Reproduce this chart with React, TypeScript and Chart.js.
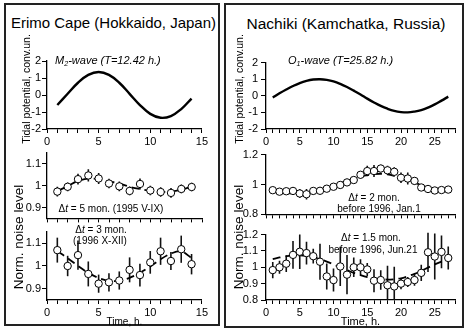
import React, { useEffect, useRef } from "react";
import { Chart, registerables } from "chart.js";

Chart.register(...registerables);

const FONT = "'Liberation Sans', Arial, Helvetica, sans-serif";

// ---------------- data ----------------
const erimoHours = [1, 2, 3, 4, 5, 6, 7, 8, 9, 10, 11, 12, 13, 14];
const erimoTidalM2 = [-0.59, 0.07, 0.72, 1.18, 1.35, 1.18, 0.72, 0.07, -0.59, -1.11, -1.34, -1.24, -0.83, -0.21];

const nachikiHours = [1, 2, 3, 4, 5, 6, 7, 8, 9, 10, 11, 12, 13, 14, 15, 16, 17, 18, 19, 20, 21, 22, 23, 24, 25, 26, 27];
const nachikiTidalO1 = [-0.1, 0.15, 0.38, 0.59, 0.77, 0.9, 0.98, 1.0, 0.96, 0.87, 0.72, 0.53, 0.31, 0.08, -0.17, -0.4, -0.61, -0.78, -0.91, -0.98, -1.0, -0.95, -0.86, -0.71, -0.52, -0.29, -0.05];

const erimo1995Noise = [0.973, 0.995, 1.03, 1.047, 1.033, 1.01, 0.997, 0.976, 1.008, 0.978, 0.971, 0.967, 0.985, 0.994];
const erimo1995Err = [0.022, 0.02, 0.025, 0.028, 0.025, 0.022, 0.022, 0.02, 0.025, 0.022, 0.022, 0.022, 0.02, 0.02];
const erimo1995Fit = [0.975, 0.998, 1.022, 1.032, 1.03, 1.02, 1.01, 0.995, 0.985, 0.977, 0.972, 0.973, 0.982, 0.995];

const erimo1996Noise = [1.07, 1.0, 1.048, 0.965, 0.922, 0.928, 0.936, 0.983, 0.96, 1.016, 1.065, 1.022, 1.074, 1.008];
const erimo1996Err = [0.055, 0.045, 0.065, 0.055, 0.04, 0.04, 0.04, 0.055, 0.05, 0.05, 0.06, 0.04, 0.06, 0.045];
const erimo1996Fit = [1.065, 1.035, 1.0, 0.97, 0.947, 0.935, 0.935, 0.948, 0.97, 0.998, 1.03, 1.055, 1.065, 1.035];

const nachikiJanNoise = [0.962, 0.952, 0.955, 0.957, 0.94, 0.935, 0.957, 0.958, 0.972, 0.985, 0.997, 1.014, 1.03, 1.065, 1.09, 1.09, 1.107, 1.095, 1.085, 1.045, 1.04, 1.024, 0.98, 0.97, 0.96, 0.963, 0.966];
const nachikiJanErr = [0.015, 0.015, 0.015, 0.015, 0.03, 0.035, 0.015, 0.015, 0.02, 0.02, 0.015, 0.015, 0.02, 0.025, 0.035, 0.04, 0.025, 0.03, 0.03, 0.035, 0.04, 0.025, 0.02, 0.015, 0.015, 0.02, 0.02];
const nachikiJanFit = [0.95, 0.945, 0.942, 0.94, 0.94, 0.945, 0.955, 0.965, 0.978, 0.993, 1.008, 1.023, 1.038, 1.052, 1.063, 1.07, 1.072, 1.068, 1.058, 1.045, 1.03, 1.013, 0.995, 0.978, 0.963, 0.952, 0.947];

const nachikiJunNoise = [0.983, 1.0, 1.022, 1.076, 1.095, 1.087, 1.068, 1.034, 0.944, 0.922, 1.005, 0.955, 1.0, 1.0, 0.987, 0.918, 0.922, 0.89, 0.883, 0.9, 0.91, 0.922, 0.966, 1.092, 1.066, 1.094, 1.057];
const nachikiJunErr = [0.05, 0.04, 0.05, 0.085, 0.105, 0.07, 0.045, 0.11, 0.08, 0.07, 0.12, 0.12, 0.06, 0.05, 0.04, 0.07, 0.06, 0.12, 0.12, 0.035, 0.03, 0.035, 0.05, 0.12, 0.14, 0.1, 0.07];
const nachikiJunFit = [1.05, 1.06, 1.068, 1.072, 1.073, 1.07, 1.062, 1.05, 1.035, 1.018, 1.0, 0.983, 0.966, 0.952, 0.94, 0.932, 0.927, 0.925, 0.927, 0.933, 0.945, 0.96, 0.978, 0.998, 1.018, 1.035, 1.048];

const tidalTicks = [-2, -1, 0, 1, 2];
const tidalTickLabels = ["-2", "-1", "0", "1", "2"];
const erimoNoiseTicks = [0.9, 1, 1.1];
const erimoNoiseTickLabels = ["0.9", "1", "1.1"];
const nachikiNoiseTicks = [0.8, 0.9, 1, 1.1, 1.2];
const nachikiNoiseTickLabels = ["0.8", "0.9", "1", "1.1", "1.2"];
const erimoTimeLabels = [0, 5, 10, 15];
const nachikiTimeLabels = [0, 5, 10, 15, 20, 25];

// ---------------- helpers ----------------
const pts = (xs: number[], ys: number[]) => xs.map((x, i) => ({ x, y: ys[i] }));

const curve = (xs: number[], ys: number[]) => ({
  data: pts(xs, ys),
  borderColor: "#000",
  borderWidth: 2.4,
  pointRadius: 0,
  tension: 0.4,
  fill: false,
  order: 1,
});

const fitLine = (xs: number[], ys: number[]) => ({
  data: pts(xs, ys),
  borderColor: "#000",
  borderWidth: 1.8,
  borderDash: [8, 5],
  pointRadius: 0,
  tension: 0.3,
  fill: false,
  order: 2,
});

const obs = (xs: number[], ys: number[], errs: number[]) => ({
  data: pts(xs, ys),
  errors: errs,
  showLine: false,
  pointRadius: 3.7,
  pointBackgroundColor: "#fff",
  pointBorderColor: "#000",
  pointBorderWidth: 1,
  order: 0,
});

const errorBarPlugin = {
  id: "errorBars",
  beforeDatasetsDraw(chart: any) {
    const { ctx, chartArea } = chart;
    const xs = chart.scales.x;
    const ys = chart.scales.y;
    chart.data.datasets.forEach((ds: any) => {
      if (!ds.errors) return;
      ctx.save();
      ctx.beginPath();
      ctx.rect(chartArea.left, chartArea.top - 4, chartArea.right - chartArea.left, chartArea.bottom - chartArea.top + 4);
      ctx.clip();
      ctx.strokeStyle = "#111";
      ctx.lineWidth = 1.6;
      ds.data.forEach((p: any, j: number) => {
        const x = xs.getPixelForValue(p.x);
        const ya = ys.getPixelForValue(p.y - ds.errors[j]);
        const yb = ys.getPixelForValue(p.y + ds.errors[j]);
        ctx.beginPath();
        ctx.moveTo(x, ya);
        ctx.lineTo(x, yb);
        ctx.stroke();
      });
      ctx.restore();
    });
  },
};

type PlotSpec = {
  area: { x0: number; x1: number; y0: number; y1: number };
  xMax: number;
  xLabelVals: number[];
  showXLabels: boolean;
  xTitle?: string;
  xTitleSize?: number;
  xAxisH: number;
  fontSize: number;
  yPad: number;
  yMin: number;
  yMax: number;
  yTicks: number[];
  yLabels: string[];
  datasets: any[];
};

const Y_W = 30;
const PAD_T = 8;
const PAD_R = 8;

function Plot({ spec }: { spec: PlotSpec }) {
  const ref = useRef<HTMLCanvasElement>(null);
  const { x0, x1, y0, y1 } = spec.area;
  const left = x0 - Y_W;
  const top = y0 - PAD_T;
  const width = Y_W + (x1 - x0) + PAD_R;
  const height = PAD_T + (y1 - y0) + spec.xAxisH;

  useEffect(() => {
    const xMinor: number[] = [];
    for (let v = 0; v <= spec.xMax; v++) xMinor.push(v);
    const tickFont = { family: FONT, size: spec.fontSize };
    const chart = new Chart(ref.current as HTMLCanvasElement, {
      type: "line",
      data: { datasets: spec.datasets },
      plugins: [errorBarPlugin],
      options: {
        responsive: false,
        maintainAspectRatio: false,
        animation: false,
        devicePixelRatio: 1,
        layout: { padding: { top: PAD_T, right: PAD_R, left: 0, bottom: 0 } },
        plugins: { legend: { display: false }, tooltip: { enabled: false } },
        scales: {
          x: {
            type: "linear",
            min: 0,
            max: spec.xMax,
            bounds: "data",
            afterBuildTicks: (s: any) => {
              s.ticks = xMinor.map((v) => ({ value: v }));
            },
            afterFit: (s: any) => {
              s.height = spec.xAxisH;
            },
            ticks: {
              display: spec.showXLabels,
              autoSkip: false,
              maxRotation: 0,
              padding: 2,
              color: "#000",
              font: tickFont,
              callback: (v: any) => (spec.xLabelVals.indexOf(v) >= 0 ? String(v) : ""),
            },
            grid: { drawOnChartArea: false, drawTicks: true, tickLength: 4, color: "#000", lineWidth: 1 },
            border: { display: true, color: "#000", width: 1.3 },
            title: spec.xTitle
              ? {
                  display: true,
                  text: spec.xTitle,
                  color: "#000",
                  font: { family: FONT, size: spec.xTitleSize || 10 },
                  padding: { top: 0, bottom: 0 },
                }
              : { display: false },
          },
          y: {
            type: "linear",
            min: spec.yMin,
            max: spec.yMax,
            bounds: "data",
            afterBuildTicks: (s: any) => {
              s.ticks = spec.yTicks.map((v) => ({ value: v }));
            },
            afterFit: (s: any) => {
              s.width = Y_W;
            },
            ticks: {
              padding: spec.yPad,
              color: "#000",
              font: tickFont,
              callback: (v: any) => {
                const i = spec.yTicks.indexOf(v);
                return i >= 0 ? spec.yLabels[i] : "";
              },
            },
            grid: { drawOnChartArea: false, drawTicks: true, tickLength: 5, color: "#000", lineWidth: 1 },
            border: { display: true, color: "#000", width: 1.3 },
          },
        },
      } as any,
    });
    return () => chart.destroy();
  }, []);

  return (
    <canvas
      ref={ref}
      width={width}
      height={height}
      style={{ position: "absolute", left, top, width, height }}
    />
  );
}

function Txt(props: {
  x: number;
  y: number;
  size: number;
  rotate?: boolean;
  italic?: boolean;
  anchorLeft?: boolean;
  children: React.ReactNode;
}) {
  const { x, y, size, rotate, italic, anchorLeft, children } = props;
  return (
    <div
      style={{
        position: "absolute",
        left: x,
        top: y,
        transform: (anchorLeft ? "translate(0,-50%)" : "translate(-50%,-50%)") + (rotate ? " rotate(-90deg)" : ""),
        fontSize: size,
        fontFamily: FONT,
        fontStyle: italic ? "italic" : "normal",
        lineHeight: 1,
        whiteSpace: "nowrap",
        color: "#000",
      }}
    >
      {children}
    </div>
  );
}

const Sub = ({ children }: { children: React.ReactNode }) => (
  <span style={{ fontSize: "0.65em", position: "relative", top: "0.35em" }}>{children}</span>
);

const Box = ({ l, t, r, b }: { l: number; t: number; r: number; b: number }) => (
  <div
    style={{
      position: "absolute",
      left: l,
      top: t,
      width: r - l,
      height: b - t,
      border: "2px solid #222",
      boxSizing: "border-box",
    }}
  />
);

export default function App() {
  const L = { x0: 47, x1: 202 };
  const R = { x0: 266, x1: 455 };

  const specs: PlotSpec[] = [
    {
      area: { ...L, y0: 61, y1: 129 },
      xMax: 15, xLabelVals: erimoTimeLabels, showXLabels: true, xAxisH: 22, fontSize: 11, yPad: 1,
      yMin: -2, yMax: 2, yTicks: tidalTicks, yLabels: tidalTickLabels,
      datasets: [curve(erimoHours, erimoTidalM2)],
    },
    {
      area: { ...L, y0: 153, y1: 220 },
      xMax: 15, xLabelVals: erimoTimeLabels, showXLabels: false, xAxisH: 6, fontSize: 11, yPad: 1,
      yMin: 0.85, yMax: 1.15, yTicks: erimoNoiseTicks, yLabels: erimoNoiseTickLabels,
      datasets: [obs(erimoHours, erimo1995Noise, erimo1995Err), fitLine(erimoHours, erimo1995Fit)],
    },
    {
      area: { ...L, y0: 232, y1: 300 },
      xMax: 15, xLabelVals: erimoTimeLabels, showXLabels: true, xTitle: "Time, h.", xTitleSize: 10, xAxisH: 28, fontSize: 11, yPad: 1,
      yMin: 0.85, yMax: 1.15, yTicks: erimoNoiseTicks, yLabels: erimoNoiseTickLabels,
      datasets: [obs(erimoHours, erimo1996Noise, erimo1996Err), fitLine(erimoHours, erimo1996Fit)],
    },
    {
      area: { ...R, y0: 61, y1: 129 },
      xMax: 28, xLabelVals: nachikiTimeLabels, showXLabels: true, xAxisH: 22, fontSize: 11, yPad: 3,
      yMin: -2, yMax: 2, yTicks: tidalTicks, yLabels: tidalTickLabels,
      datasets: [curve(nachikiHours, nachikiTidalO1)],
    },
    {
      area: { ...R, y0: 153, y1: 218 },
      xMax: 28, xLabelVals: nachikiTimeLabels, showXLabels: false, xAxisH: 6, fontSize: 11, yPad: 3,
      yMin: 0.8, yMax: 1.2, yTicks: nachikiNoiseTicks, yLabels: nachikiNoiseTickLabels,
      datasets: [obs(nachikiHours, nachikiJanNoise, nachikiJanErr), fitLine(nachikiHours, nachikiJanFit)],
    },
    {
      area: { ...R, y0: 233, y1: 300 },
      xMax: 28, xLabelVals: nachikiTimeLabels, showXLabels: true, xTitle: "Time, h.", xTitleSize: 11, xAxisH: 29, fontSize: 11, yPad: 3,
      yMin: 0.8, yMax: 1.2, yTicks: nachikiNoiseTicks, yLabels: nachikiNoiseTickLabels,
      datasets: [obs(nachikiHours, nachikiJunNoise, nachikiJunErr), fitLine(nachikiHours, nachikiJunFit)],
    },
  ];

  return (
    <div style={{ position: "absolute", left: 0, top: 0, width: 466, height: 333, background: "#fff", overflow: "hidden" }}>
      <Box l={4} t={3} r={220} b={326} />
      <Box l={224} t={3} r={464} b={328} />

      {specs.map((s, i) => (
        <Plot key={i} spec={s} />
      ))}

      <Txt x={113.5} y={22} size={15}>Erimo Cape (Hokkaido, Japan)</Txt>
      <Txt x={346} y={24} size={15.5}>Nachiki (Kamchatka, Russia)</Txt>

      <Txt x={55} y={60.5} size={11} italic anchorLeft>
        M<Sub>2</Sub>-wave (T=12.42 h.)
      </Txt>
      <Txt x={288} y={60.5} size={11} italic anchorLeft>
        O<Sub>1</Sub>-wave (T=25.82 h.)
      </Txt>

      <Txt x={26} y={89} size={10.5} rotate>Tidal potential, conv.un.</Txt>
      <Txt x={239} y={89} size={10.5} rotate>Tidal potential, conv.un.</Txt>
      <Txt x={19} y={237} size={13.5} rotate>Norm. noise level</Txt>
      <Txt x={239} y={237} size={13.5} rotate>Norm. noise level</Txt>

      <Txt x={111} y={208.5} size={10}>
        Δ<i>t</i> = 5 mon. (1995 V-IX)
      </Txt>
      <Txt x={101} y={230} size={10}>
        Δ<i>t</i> = 3 mon.
      </Txt>
      <Txt x={100} y={241} size={10}>(1996 X-XII)</Txt>
      <Txt x={374} y={198} size={10}>
        Δ<i>t</i> = 2 mon.
      </Txt>
      <Txt x={379} y={209} size={10}>before 1996, Jan.1</Txt>
      <Txt x={371} y={237.5} size={10}>
        Δ<i>t</i> = 1.5 mon.
      </Txt>
      <Txt x={373} y={250} size={10}>before 1996, Jun.21</Txt>
    </div>
  );
}
